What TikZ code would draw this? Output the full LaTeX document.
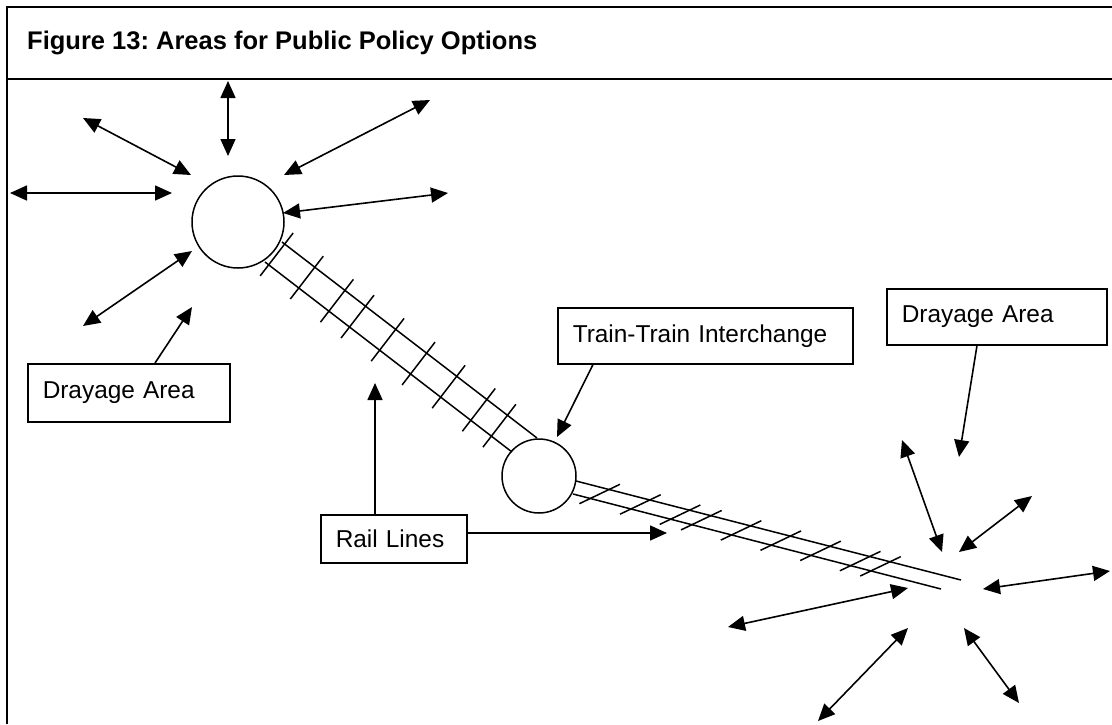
\documentclass[tikz,border=0pt]{standalone}
\usepackage{fontspec}
\setmainfont{Liberation Sans}
\usetikzlibrary{arrows.meta,calc,positioning}
\newcommand{\lblfont}{\fontsize{24.4}{29}\selectfont}
\newcommand{\ttlfont}{\fontsize{25.5}{30}\selectfont\bfseries}
\frenchspacing

\begin{document}
\begin{tikzpicture}[x=1pt, y=-1pt,
  >={Triangle[length=17pt,width=15pt]},
  lbl/.style={draw, line width=1.5pt, anchor=north west, inner xsep=15pt,
              inner ysep=0pt, align=left, font=\lblfont},
  stn/.style={circle, draw, line width=1.5pt, inner sep=0pt},
  arr/.style={->, line width=1.6pt},
  dbl/.style={<->, line width=1.6pt},
  rail/.style={line width=1.5pt}
]
  \useasboundingbox (0,0) rectangle (1112,724);
  \draw[line width=2pt] (7,724) -- (7,7) -- (1112,7);
  \draw[line width=2pt] (7,79) -- (1112,79);
  \node[anchor=west, inner sep=0pt, font=\ttlfont] (T) at (27,43)
    {Figure 13: Areas for Public Policy Options};

  \node[stn, minimum size=92pt] (C1) at (238,222) {};
  \node[stn, minimum size=74pt] (C2) at (539,476) {};

  \node[lbl, text width=172pt, minimum height=58pt] (D1) at (27,363) {Drayage Area};
  \node[lbl, text width=265pt, minimum height=56pt] (TT) at (557,307) {Train-Train Interchange};
  \node[lbl, text width=190pt, minimum height=56pt] (D2) at (886,288) {Drayage Area};
  \node[lbl, text width=116pt, minimum height=48pt] (RL) at (320,514) {Rail Lines};

  % rail lines
  \coordinate (r1ua) at (282,242); \coordinate (r1ub) at (537,438);
  \coordinate (r1la) at (265,262); \coordinate (r1lb) at (512,452);
  \draw[rail] (r1ua) -- (r1ub);
  \draw[rail] (r1la) -- (r1lb);
  \coordinate (r1a) at ($(r1ua)!0.5!(r1la)$);
  \coordinate (r1b) at ($(r1ub)!0.5!(r1lb)$);
  \foreach \t in {4,42,80,106,144,183,221,259,285} {
    \coordinate (p) at ($(r1a)!\t pt!(r1b)$);
    \draw[rail] ($(p)!27pt!90:(r1b)$) -- ($(p)!27pt!-90:(r1b)$);
  }
  \coordinate (r2ua) at (576,481); \coordinate (r2ub) at (961,580);
  \coordinate (r2la) at (573,494); \coordinate (r2lb) at (941,589);
  \draw[rail] (r2ua) -- (r2ub);
  \draw[rail] (r2la) -- (r2lb);
  \coordinate (r2a) at ($(r2ua)!0.5!(r2la)$);
  \coordinate (r2b) at ($(r2ub)!0.5!(r2lb)$);
  \foreach \t in {26,68,109,131,172,213,254,295,316} {
    \coordinate (p) at ($(r2a)!\t pt!(r2b)$);
    \draw[rail] ($(p)!22.5pt!40:(r2b)$) -- ($(p)!22.5pt!220:(r2b)$);
  }

  % label arrows
  \coordinate (D1tip) at (192,307);
  \draw[arr] ($(D1.north west)+(128,0)$) -- (D1tip);
  \coordinate (TTtip) at (557,437);
  \draw[arr] ($(TT.south west)+(36,0)$) -- (TTtip);
  \coordinate (D2tip) at (959,457);
  \draw[arr] ($(D2.south west)+(91,0)$) -- (D2tip);
  \coordinate (RLup) at (375,383);
  \draw[arr] (RLup |- RL.north) -- (RLup);
  \coordinate (RLright) at (667,533);
  \draw[arr] (RL.east |- RLright) -- (RLright);

  % drayage arrows
  \foreach \n/\ax/\ay/\bx/\by in {
      a1/228/81/228/156, a2/83/118/191/175, a3/10/193/172/193,
      a4/430/100/284/175, a5/448/193/283/213, a6/192/251/83/326,
      b1/902/440/942/552, b2/1032/496/959/552, b3/983/589/1110/571,
      b4/728/627/908/588, b5/908/628/818/721, b6/964/628/1019/703} {
    \coordinate (\n-s) at (\ax,\ay);
    \coordinate (\n-e) at (\bx,\by);
    \draw[dbl] (\n-s) -- (\n-e);
  }
\end{tikzpicture}
\end{document}
